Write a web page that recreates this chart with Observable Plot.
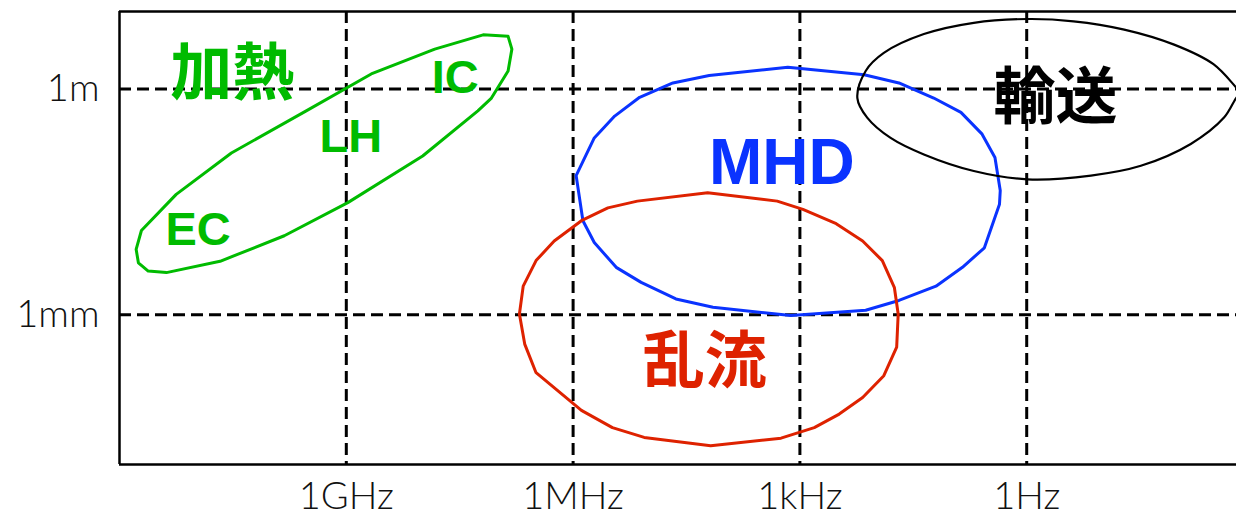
<!DOCTYPE html>
<html>
<head>
<meta charset="utf-8">
<script src="https://cdn.jsdelivr.net/npm/d3@7"></script>
<script src="https://cdn.jsdelivr.net/npm/@observablehq/plot@0.6"></script>
<style>
  html, body { margin: 0; padding: 0; background: #fff; }
</style>
</head>
<body>
<div id="chart"></div>
<script>
// Axes: x = log10(frequency / Hz), drawn decreasing; y = log10(length / m)
const xTicks = [9, 6, 3, 0];
const xTickLabels = ["1GHz", "1MHz", "1kHz", "1Hz"];
const yTicks = [0, -3];
const yTickLabels = ["1m", "1mm"];

// Region outlines (vertices, in log10 units)
const heatingX = [11.71, 11.25, 10.52, 9.53, 8.67, 7.83, 7.19, 6.86, 6.81, 6.86, 7.08, 7.26, 7.99, 8.98, 9.82, 10.67, 11.38, 11.62, 11.75, 11.78];
const heatingY = [-1.88, -1.40, -0.85, -0.29, 0.20, 0.53, 0.72, 0.70, 0.53, 0.24, -0.12, -0.29, -0.89, -1.51, -1.95, -2.29, -2.44, -2.42, -2.31, -2.13];

const mhdX = [3.16, 2.15, 1.69, 1.23, 0.87, 0.59, 0.42, 0.35, 0.36, 0.56, 0.85, 1.20, 1.69, 2.13, 3.12, 4.15, 4.64, 5.10, 5.43, 5.72, 5.87, 5.96, 5.72, 5.45, 5.12, 4.68, 4.20];
const mhdY = [0.29, 0.19, 0.08, -0.12, -0.31, -0.60, -0.91, -1.35, -1.53, -2.11, -2.37, -2.62, -2.81, -2.94, -3.01, -2.90, -2.79, -2.57, -2.37, -2.04, -1.75, -1.15, -0.65, -0.36, -0.11, 0.08, 0.18];

const turbX = [4.22, 3.30, 2.96, 2.52, 2.17, 1.91, 1.75, 1.70, 1.72, 1.89, 2.17, 2.48, 2.81, 3.25, 4.18, 5.06, 5.48, 5.89, 6.49, 6.64, 6.71, 6.66, 6.49, 6.25, 5.89, 5.54, 5.15];
const turbY = [-1.38, -1.49, -1.60, -1.79, -2.02, -2.28, -2.64, -2.99, -3.43, -3.81, -4.10, -4.32, -4.50, -4.64, -4.74, -4.63, -4.50, -4.27, -3.77, -3.39, -2.99, -2.62, -2.28, -2.02, -1.75, -1.58, -1.49];

const transX = [2.24, 2.13, 1.89, 1.36, 0.70, -0.01, -0.62, -1.29, -1.95, -2.47, -2.77, -2.83, -2.77, -2.61, -2.17, -1.51, -0.85, -0.01, 0.70, 1.36, 1.80, 2.11];
const transY = [-0.12, 0.24, 0.48, 0.73, 0.88, 0.93, 0.90, 0.79, 0.59, 0.33, 0.02, -0.05, -0.12, -0.38, -0.73, -1.02, -1.15, -1.20, -1.09, -0.87, -0.65, -0.38];

// Labels
const labelText = ["加熱", "輸送", "乱流", "MHD", "IC", "LH", "EC"];
const labelX = [10.51, -0.38, 4.26, 3.24, 7.56, 8.94, 10.96];
const labelY = [0.23, -0.09, -3.60, -0.96, 0.17, -0.61, -1.85];

const colors = { green: "#00bb00", blue: "#0a33ff", red: "#de2200", black: "#000000" };

const toPts = (xs, ys) => xs.map((x, i) => ({ x, y: ys[i] }));
const outlines = [
  { pts: toPts(heatingX, heatingY), color: colors.green, width: 3, curve: "linear-closed" },
  { pts: toPts(mhdX, mhdY), color: colors.blue, width: 3, curve: "linear-closed" },
  { pts: toPts(turbX, turbY), color: colors.red, width: 3, curve: "linear-closed" },
  { pts: toPts(transX, transY), color: colors.black, width: 2.2, curve: "catmull-rom-closed" }
];

const cjk = "'Noto Sans CJK JP', sans-serif";
const latin = "'Liberation Sans', Arial, sans-serif";
const labelStyle = [
  { fill: colors.green, size: 62, font: cjk, dy: 3 },
  { fill: colors.black, size: 62, font: cjk, dy: 3 },
  { fill: colors.red, size: 62, font: cjk, dy: 3 },
  { fill: colors.blue, size: 64, font: latin, dy: 2 },
  { fill: colors.green, size: 47, font: latin, dy: 2 },
  { fill: colors.green, size: 47, font: latin, dy: 2 },
  { fill: colors.green, size: 47, font: latin, dy: 2 }
];
const labels = labelText.map((t, i) => ({ t, x: labelX[i], y: labelY[i], ...labelStyle[i] }));

const xDomain = [12, -2.775];
const yDomain = [-4.99, 1.03];
const tickFont = "Lato, 'Open Sans', sans-serif";

const chart = Plot.plot({
  width: 1236,
  height: 517,
  marginLeft: 119,
  marginRight: 0,
  marginTop: 11,
  marginBottom: 53,
  x: { domain: xDomain, axis: null, label: null },
  y: { domain: yDomain, axis: null, label: null },
  style: { background: "#fff" },
  marks: [
    // grid
    Plot.ruleX(xTicks, { stroke: "#000", strokeWidth: 3, strokeDasharray: "12,6" }),
    Plot.ruleY(yTicks, { stroke: "#000", strokeWidth: 3, strokeDasharray: "12,6" }),
    // frame (left, top, bottom)
    Plot.ruleX([xDomain[0]], { stroke: "#000", strokeWidth: 2.5 }),
    Plot.ruleY([yDomain[0], yDomain[1]], { stroke: "#000", strokeWidth: 2.5 }),
    // outlines
    ...outlines.map(o => Plot.line(o.pts, { x: "x", y: "y", stroke: o.color, strokeWidth: o.width, curve: o.curve })),
    // labels
    ...labels.map(l => Plot.text([l], {
      x: "x", y: "y", text: "t", fill: l.fill, fontSize: l.size, fontWeight: "bold",
      fontFamily: l.font, dy: l.dy
    })),
    // axes
    Plot.axisX(xTicks, {
      anchor: "bottom", tickSize: 0, tickPadding: 18, label: null,
      tickFormat: d => xTickLabels[xTicks.indexOf(d)],
      fontSize: 38, fontFamily: tickFont, fontWeight: 300, fill: "#111"
    }),
    Plot.axisY(yTicks, {
      anchor: "left", tickSize: 0, tickPadding: 20, label: null,
      tickFormat: d => yTickLabels[yTicks.indexOf(d)],
      fontSize: 38, fontFamily: tickFont, fontWeight: 300, fill: "#111"
    })
  ]
});
document.getElementById("chart").appendChild(chart);
</script>
</body>
</html>
